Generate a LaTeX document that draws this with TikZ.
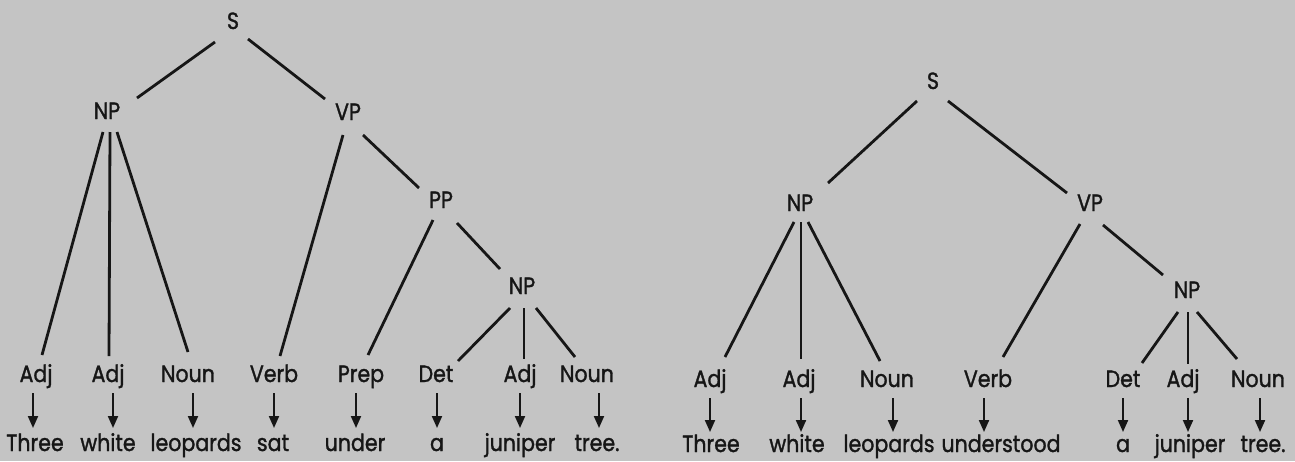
\documentclass[tikz,border=0pt]{standalone}
\usepackage{fontspec}
\setmainfont{Poppins}[FakeStretch=0.875,FakeBold=1.3]
\usetikzlibrary{arrows.meta}
\definecolor{bg}{RGB}{196,196,196}
\definecolor{ink}{RGB}{22,22,22}
\begin{document}
\begin{tikzpicture}[x=1pt,y=-1pt,
  lbl/.style={anchor=base,inner sep=0pt,font=\fontsize{23.5}{27}\selectfont,text=ink},
  edge/.style={draw=ink,line width=2.8pt},
  arr/.style={draw=ink,line width=2pt,-{Triangle[length=12pt,width=10pt]}}]
\fill[bg] (0,0) rectangle (1295,461);
\useasboundingbox (0,0) rectangle (1295,461);
% ---------------- left tree ----------------
\node[lbl] (S1) at (233,29) {S};
\node[lbl] (NP1) at (107,119) {NP};
\node[lbl] (VP1) at (348,120) {VP};
\node[lbl] (PP1) at (441,208) {PP};
\node[lbl] (NPa) at (522,294) {NP};
\node[lbl] (L1) at (36,382) {Adj};
\node[lbl] (L2) at (108,382) {Adj};
\node[lbl] (L3) at (188,382) {Noun};
\node[lbl] (L4) at (274,382) {Verb};
\node[lbl] (L5) at (361,382) {Prep};
\node[lbl] (L6) at (436,382) {Det};
\node[lbl] (L7) at (520,382) {Adj};
\node[lbl] (L8) at (587,382) {Noun};
\node[lbl] (W1) at (35,451) {Three};
\node[lbl] (W2) at (108,451) {white};
\node[lbl] (W3) at (196,451) {leopards};
\node[lbl] (W4) at (273,451) {sat};
\node[lbl] (W5) at (355,451) {under};
\node[lbl] (W6) at (437,451) {a};
\node[lbl] (W7) at (520,451) {juniper};
\node[lbl] (W8) at (597,451) {tree.};
\draw[edge] ([shift={(-18,13)}]S1.base) -- ([shift={(30,-21)}]NP1.base);
\draw[edge] ([shift={(15,10)}]S1.base) -- ([shift={(-23,-21)}]VP1.base);
\draw[edge] ([shift={(-4,13)}]NP1.base) -- ([shift={(6,-27)}]L1.base);
\draw[edge] ([shift={(3,13)}]NP1.base) -- ([shift={(1,-26)}]L2.base);
\draw[edge] ([shift={(10,13)}]NP1.base) -- ([shift={(0,-30)}]L3.base);
\draw[edge] ([shift={(-5,15)}]VP1.base) -- ([shift={(6,-26)}]L4.base);
\draw[edge] ([shift={(15,15)}]VP1.base) -- ([shift={(-22,-20)}]PP1.base);
\draw[edge] ([shift={(-8,12)}]PP1.base) -- ([shift={(7,-27)}]L5.base);
\draw[edge] ([shift={(16,15)}]PP1.base) -- ([shift={(-22,-25)}]NPa.base);
\draw[edge] ([shift={(-12,14)}]NPa.base) -- ([shift={(22,-21)}]L6.base);
\draw[edge] ([shift={(2,14)}]NPa.base) -- ([shift={(4,-23)}]L7.base);
\draw[edge] ([shift={(14,14)}]NPa.base) -- ([shift={(-12,-25)}]L8.base);
\draw[arr] ([shift={(-3,11)}]L1.base) -- ([shift={(-2,-23)}]W1.base);
\draw[arr] ([shift={(5,11)}]L2.base) -- ([shift={(5,-23)}]W2.base);
\draw[arr] ([shift={(5,11)}]L3.base) -- ([shift={(-3,-23)}]W3.base);
\draw[arr] ([shift={(0,11)}]L4.base) -- ([shift={(1,-23)}]W4.base);
\draw[arr] ([shift={(-5,11)}]L5.base) -- ([shift={(1,-23)}]W5.base);
\draw[arr] ([shift={(1,11)}]L6.base) -- ([shift={(0,-23)}]W6.base);
\draw[arr] ([shift={(0,11)}]L7.base) -- ([shift={(0,-23)}]W7.base);
\draw[arr] ([shift={(12,11)}]L8.base) -- ([shift={(2,-23)}]W8.base);
% ---------------- right tree ----------------
\node[lbl] (S2) at (933,89) {S};
\node[lbl] (NP2) at (800,211) {NP};
\node[lbl] (VP2) at (1090,211) {VP};
\node[lbl] (NPb) at (1187,298) {NP};
\node[lbl] (R1) at (710,387) {Adj};
\node[lbl] (R2) at (799,387) {Adj};
\node[lbl] (R3) at (887,387) {Noun};
\node[lbl] (R4) at (988,387) {Verb};
\node[lbl] (R5) at (1123,387) {Det};
\node[lbl] (R6) at (1183,387) {Adj};
\node[lbl] (R7) at (1258,387) {Noun};
\node[lbl] (V1) at (711,452) {Three};
\node[lbl] (V2) at (797,452) {white};
\node[lbl] (V3) at (889,452) {leopards};
\node[lbl] (V4) at (1001,452) {understood};
\node[lbl] (V5) at (1123,452) {a};
\node[lbl] (V6) at (1190,452) {juniper};
\node[lbl] (V7) at (1263,452) {tree.};
\draw[edge] ([shift={(-16,12)}]S2.base) -- ([shift={(28,-28)}]NP2.base);
\draw[edge] ([shift={(15,12)}]S2.base) -- ([shift={(-23,-18)}]VP2.base);
\draw[edge] ([shift={(-6,11)}]NP2.base) -- ([shift={(15,-30)}]R1.base);
\draw[edge] ([shift={(1,11)}]NP2.base) -- ([shift={(2,-28)}]R2.base);
\draw[edge] ([shift={(8,11)}]NP2.base) -- ([shift={(-7,-26)}]R3.base);
\draw[edge] ([shift={(-10,13)}]VP2.base) -- ([shift={(15,-30)}]R4.base);
\draw[edge] ([shift={(13,14)}]VP2.base) -- ([shift={(-24,-23)}]NPb.base);
\draw[edge] ([shift={(-9,14)}]NPb.base) -- ([shift={(19,-24)}]R5.base);
\draw[edge] ([shift={(1,14)}]NPb.base) -- ([shift={(5,-23)}]R6.base);
\draw[edge] ([shift={(10,14)}]NPb.base) -- ([shift={(-21,-28)}]R7.base);
\draw[arr] ([shift={(0,11)}]R1.base) -- ([shift={(-1,-20)}]V1.base);
\draw[arr] ([shift={(2,11)}]R2.base) -- ([shift={(4,-20)}]V2.base);
\draw[arr] ([shift={(6,11)}]R3.base) -- ([shift={(4,-20)}]V3.base);
\draw[arr] ([shift={(-4,11)}]R4.base) -- ([shift={(-17,-20)}]V4.base);
\draw[arr] ([shift={(0,11)}]R5.base) -- ([shift={(0,-20)}]V5.base);
\draw[arr] ([shift={(5,11)}]R6.base) -- ([shift={(-2,-20)}]V6.base);
\draw[arr] ([shift={(2,11)}]R7.base) -- ([shift={(-3,-20)}]V7.base);
\end{tikzpicture}
\end{document}
